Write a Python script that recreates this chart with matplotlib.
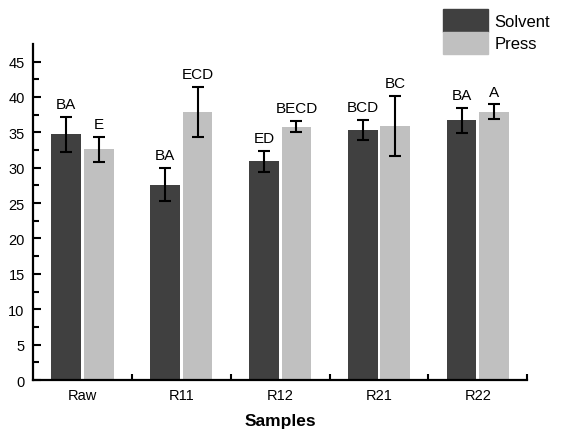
import numpy as np
import matplotlib
matplotlib.use("Agg")
import matplotlib.pyplot as plt
from matplotlib.patches import Patch

plt.rcParams['font.family'] = ['Liberation Sans', 'DejaVu Sans']

# === DATA ===
samples = ["Raw", "R11", "R12", "R21", "R22"]
solvent = [34.7, 27.6, 30.9, 35.3, 36.7]
solvent_err = [2.5, 2.35, 1.5, 1.45, 1.75]
press = [32.6, 37.9, 35.8, 35.9, 37.9]
press_err = [1.75, 3.55, 0.8, 4.25, 1.05]
solvent_letters = ["BA", "BA", "ED", "BCD", "BA"]
press_letters = ["E", "ECD", "BECD", "BC", "A"]

SOLVENT_COLOR = "#404040"
PRESS_COLOR = "#c0c0c0"

fig = plt.figure(figsize=(5.7, 4.31), dpi=100)
ax = fig.add_axes([0.058, 0.116, 0.867, 0.78])

x = np.arange(len(samples))
w = 0.3
off = 0.165

ax.bar(x - off, solvent, w, color=SOLVENT_COLOR)
ax.bar(x + off, press, w, color=PRESS_COLOR)
ax.errorbar(x - off, solvent, yerr=solvent_err, fmt='none', ecolor='black',
            elinewidth=1.5, capsize=4, capthick=1.5)
ax.errorbar(x + off, press, yerr=press_err, fmt='none', ecolor='black',
            elinewidth=1.5, capsize=4, capthick=1.5)

for i in range(len(samples)):
    ax.annotate(solvent_letters[i], (x[i] - off, solvent[i] + solvent_err[i]),
                xytext=(0, 4), textcoords='offset points', ha='center', va='bottom', fontsize=11)
    ax.annotate(press_letters[i], (x[i] + off, press[i] + press_err[i]),
                xytext=(0, 4), textcoords='offset points', ha='center', va='bottom', fontsize=11)

# axes styling
ax.set_xlim(-0.5, 4.5)
ax.set_ylim(0, 47.5)
ax.set_yticks(np.arange(0, 50, 5))
ax.set_yticks(np.arange(2.5, 47.5, 5), minor=True)
ax.set_xticks(x)
ax.set_xticklabels(samples, fontsize=10.5)
ax.set_xticks(np.arange(0.5, 4.6, 1), minor=True)
ax.tick_params(axis='x', which='major', length=0, pad=6)
ax.tick_params(axis='x', which='minor', direction='in', length=4, width=1.5)
ax.tick_params(axis='y', which='major', direction='in', length=6, width=1.5, labelsize=10.5, pad=6)
ax.tick_params(axis='y', which='minor', direction='in', length=4, width=1.5)
ax.spines['top'].set_visible(False)
ax.spines['right'].set_visible(False)
ax.spines['left'].set_linewidth(1.6)
ax.spines['bottom'].set_linewidth(1.6)
ax.set_xlabel("Samples", fontsize=12.5, fontweight='bold', labelpad=8)

handles = [Patch(color=SOLVENT_COLOR, label="Solvent"), Patch(color=PRESS_COLOR, label="Press")]
fig.legend(handles=handles, loc='upper left', bbox_to_anchor=(0.777, 0.976), frameon=False,
           fontsize=12, handlelength=2.7, handleheight=1.68, labelspacing=0,
           handletextpad=0.4, borderpad=0, borderaxespad=0)

plt.savefig("out.png", dpi=100)
